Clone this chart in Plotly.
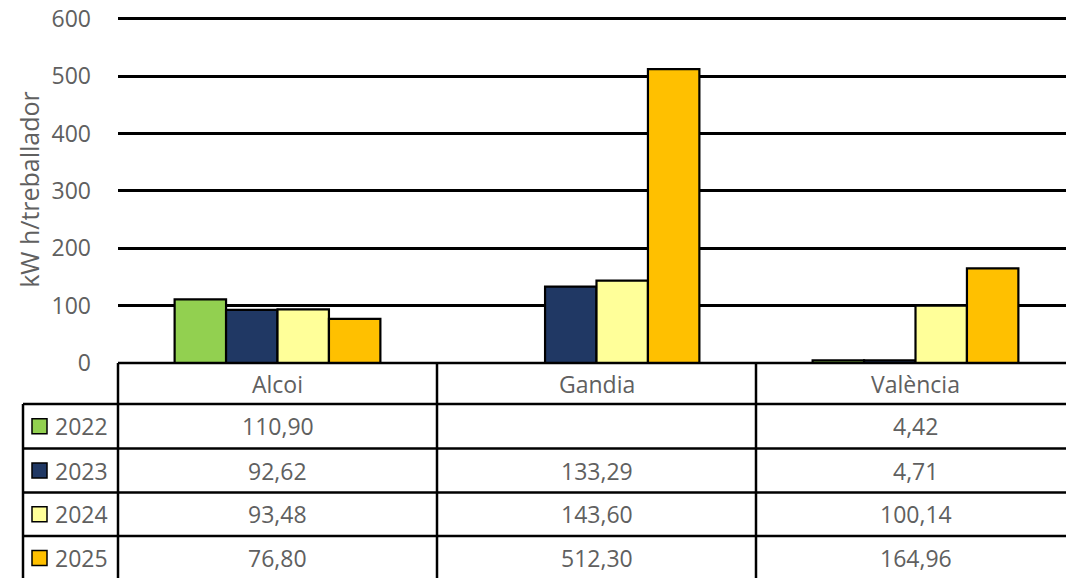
import plotly.graph_objects as go

# ---- data ----
categories = ["Alcoi", "Gandia", "València"]
years = ["2022", "2023", "2024", "2025"]
v2022 = [110.90, None, 4.42]
v2023 = [92.62, 133.29, 4.71]
v2024 = [93.48, 143.60, 100.14]
v2025 = [76.80, 512.30, 164.96]
series = [v2022, v2023, v2024, v2025]
colors = ["#92D050", "#203864", "#FFFF99", "#FFC000"]
y_ticks = [0, 100, 200, 300, 400, 500, 600]
y_title = "kW h/treballador"

W, H = 1066, 578
L, T, B = 118, 16, 363  # plot area left / top / bottom pixel
PW, PH = W - L, B - T
YMAX = 605
CATW = 319  # category width in px
FONT = "Open Sans"
GREY = "#606060"
FS = 23


def px(x):
    return (x - L) / PW


def py(y):
    return (B - y) / PH


fig = go.Figure()
for name, vals, col in zip(years, series, colors):
    fig.add_trace(go.Bar(
        x=categories, y=vals, name=name,
        marker=dict(color=col, line=dict(color="black", width=2.2)),
    ))

fig.update_layout(
    width=W, height=H,
    margin=dict(l=L, r=0, t=T, b=H - B),
    paper_bgcolor="white", plot_bgcolor="white",
    barmode="group", bargap=0.355, bargroupgap=0,
    showlegend=False,
    font=dict(family=FONT, color=GREY, size=FS),
)
fig.update_xaxes(
    range=[-0.5, PW / CATW - 0.5], showticklabels=False, showgrid=False,
    zeroline=False, showline=False, ticks="",
)
fig.update_yaxes(
    range=[0, YMAX], tickvals=y_ticks, showgrid=True, gridcolor="black",
    gridwidth=2.5, zeroline=False, showline=False, ticks="",
    ticklabelstandoff=26, tickfont=dict(size=FS, color=GREY, family=FONT),
    title=dict(text=y_title, font=dict(size=25, color=GREY, family=FONT), standoff=4),
)

shapes = []
LW = 2.5
row_y = [404, 448.5, 492.5, 536, 580]
shapes.append(dict(type="line", xref="paper", yref="paper", x0=px(L), x1=px(W + 10),
                   y0=py(B), y1=py(B), line=dict(color="black", width=LW)))
for yy in row_y:
    shapes.append(dict(type="line", xref="paper", yref="paper", x0=px(23), x1=px(W + 10),
                       y0=py(yy), y1=py(yy), line=dict(color="black", width=LW)))
shapes.append(dict(type="line", xref="paper", yref="paper", x0=px(23), x1=px(23),
                   y0=py(row_y[0]), y1=py(H + 5), line=dict(color="black", width=LW)))
for i in range(len(categories)):
    xx = L + i * CATW
    shapes.append(dict(type="line", xref="paper", yref="paper", x0=px(xx), x1=px(xx),
                       y0=py(B), y1=py(H + 5), line=dict(color="black", width=LW)))

annotations = []
for i, c in enumerate(categories):
    annotations.append(dict(text=c, xref="paper", yref="paper", x=px(L + (i + 0.5) * CATW),
                            y=py((B + row_y[0]) / 2), xanchor="center", yanchor="middle",
                            showarrow=False, font=dict(size=FS, color=GREY, family=FONT)))
for r, (name, vals, col) in enumerate(zip(years, series, colors)):
    y0, y1 = row_y[r], row_y[r + 1]
    yc = (y0 + y1) / 2
    shapes.append(dict(type="rect", xref="paper", yref="paper",
                       x0=px(32), x1=px(47), y0=py(yc - 7.5), y1=py(yc + 7.5),
                       fillcolor=col, line=dict(color="black", width=1.5)))
    annotations.append(dict(text=name, xref="paper", yref="paper", x=px(53), y=py(yc),
                            xanchor="left", yanchor="middle", showarrow=False,
                            font=dict(size=FS, color=GREY, family=FONT)))
    for i, v in enumerate(vals):
        if v is None:
            continue
        annotations.append(dict(text=f"{v:.2f}".replace(".", ","), xref="paper", yref="paper",
                                x=px(L + (i + 0.5) * CATW), y=py(yc),
                                xanchor="center", yanchor="middle", showarrow=False,
                                font=dict(size=FS, color=GREY, family=FONT)))

fig.update_layout(shapes=shapes, annotations=annotations)
fig.write_html("out.html", config={"displayModeBar": False},
               post_script="document.body.style.margin='0';")
